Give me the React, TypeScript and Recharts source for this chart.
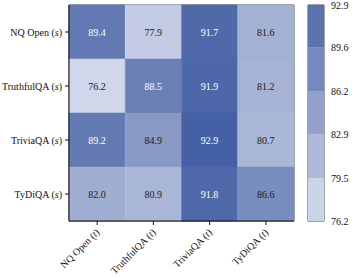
import React from "react";
import { BarChart, Bar, XAxis, YAxis, Cell, LabelList, ReferenceArea } from "recharts";

const rowLabels = ["NQ Open (s)", "TruthfulQA (s)", "TriviaQA (s)", "TyDiQA (s)"];
const colLabels = ["NQ Open (t)", "TruthfulQA (t)", "TriviaQA (t)", "TyDiQA (t)"];

const nqOpenRow = [89.4, 77.9, 91.7, 81.6];
const truthfulQARow = [76.2, 88.5, 91.9, 81.2];
const triviaQARow = [89.2, 84.9, 92.9, 80.7];
const tyDiQARow = [82.0, 80.9, 91.8, 86.6];
const matrix = [nqOpenRow, truthfulQARow, triviaQARow, tyDiQARow];

const colorbarTicks = [76.2, 79.5, 82.9, 86.2, 89.6, 92.9];
const bandColors = ["#ccd4e8", "#afb9dc", "#93a0cd", "#7788c0", "#5b72ad"];

const LOW = [208, 215, 234];
const HIGH = [69, 96, 164];
const vMin = 76.2;
const vMax = 92.9;
const colorFor = (v: number) => {
  const t = Math.max(0, Math.min(1, (v - vMin) / (vMax - vMin)));
  const c = LOW.map((l, k) => Math.round(l + (HIGH[k] - l) * t));
  return `rgb(${c[0]},${c[1]},${c[2]})`;
};
const textColorFor = (v: number) => (v > 87.5 ? "#ffffff" : "#1a1a1a");

const FONT = '"Liberation Serif", "Times New Roman", "DejaVu Serif", serif';
const fontStyle = { fontFamily: FONT };

const heatData = colLabels.map((name) => {
  const d: Record<string, any> = { name };
  rowLabels.forEach((_, i) => {
    d[`r${i}`] = 1;
  });
  return d;
});

const cbData = [
  (() => {
    const d: Record<string, any> = { name: "cb", base: colorbarTicks[0] };
    for (let i = 0; i < colorbarTicks.length - 1; i++) {
      d[`b${i}`] = +(colorbarTicks[i + 1] - colorbarTicks[i]).toFixed(2);
    }
    return d;
  })(),
];

const splitLabel = (s: string) => {
  const m = s.match(/^(.*)\((\w)\)$/);
  return m ? { pre: m[1], it: m[2] } : { pre: s, it: "" };
};

const YTick = (props: any) => {
  const { x, y, payload } = props;
  const idx = Math.round(payload.value - 0.5);
  const lab = splitLabel(rowLabels[idx] ?? "");
  return (
    <text x={x} y={y} textAnchor="end" dominantBaseline="central" style={fontStyle} fontSize={10} fill="#111">
      {lab.pre}(<tspan fontStyle="italic">{lab.it}</tspan>)
    </text>
  );
};

const XTick = (props: any) => {
  const { x, y, payload } = props;
  const lab = splitLabel(payload.value);
  const ax = x + 3;
  const ay = y + 6;
  return (
    <text x={ax} y={ay} textAnchor="end" transform={`rotate(-45, ${ax}, ${ay})`} style={fontStyle} fontSize={10} fill="#111">
      {lab.pre}(<tspan fontStyle="italic">{lab.it}</tspan>)
    </text>
  );
};

const CbTick = (props: any) => {
  const { x, y, payload } = props;
  return (
    <text x={x} y={y} textAnchor="start" dominantBaseline="central" style={fontStyle} fontSize={10} fill="#111">
      {payload.value.toFixed(1)}
    </text>
  );
};

const makeValueLabel = (row: number) => (props: any) => {
  const { x, y, width, height, index } = props;
  const v = matrix[row][index];
  return (
    <text
      x={x + width / 2}
      y={y + height / 2}
      textAnchor="middle"
      dominantBaseline="central"
      style={fontStyle}
      fontSize={10}
      fill={textColorFor(v)}
    >
      {v.toFixed(1)}
    </text>
  );
};

export default function App() {
  return (
    <div style={{ position: "absolute", left: 0, top: 0, width: 357, height: 278, background: "#fff", fontFamily: FONT }}>
      <div style={{ position: "absolute", left: 0, top: 0 }}>
        <BarChart
          width={357}
          height={278}
          data={heatData}
          margin={{ top: 5, right: 63, bottom: 0, left: 0 }}
          barCategoryGap={0}
          barGap={0}
        >
          <XAxis
            dataKey="name"
            type="category"
            height={57}
            interval={0}
            tick={<XTick />}
            tickSize={4}
            tickMargin={2}
            axisLine={{ stroke: "#111" }}
            tickLine={{ stroke: "#111" }}
          />
          <YAxis
            type="number"
            domain={[0, 4]}
            reversed
            ticks={[0.5, 1.5, 2.5, 3.5]}
            width={69}
            tick={<YTick />}
            tickSize={4}
            tickMargin={3}
            axisLine={{ stroke: "#111" }}
            tickLine={{ stroke: "#111" }}
            interval={0}
          />
          {rowLabels.map((_, i) => (
            <Bar key={i} dataKey={`r${i}`} stackId="h" isAnimationActive={false}>
              {matrix[i].map((v, j) => (
                <Cell key={j} fill={colorFor(v)} stroke={colorFor(v)} strokeWidth={0.5} />
              ))}
              <LabelList content={makeValueLabel(i)} />
            </Bar>
          ))}
          <ReferenceArea y1={0} y2={4} fill="none" stroke="#444" strokeWidth={1} ifOverflow="visible" />
        </BarChart>
      </div>
      <div style={{ position: "absolute", left: 300, top: 0 }}>
        <BarChart
          width={57}
          height={230}
          data={cbData}
          margin={{ top: 5, right: 0, bottom: 9, left: 8 }}
          barCategoryGap={0}
          barGap={0}
        >
          <XAxis dataKey="name" hide />
          <YAxis
            orientation="right"
            type="number"
            domain={[colorbarTicks[0], colorbarTicks[colorbarTicks.length - 1]]}
            ticks={colorbarTicks}
            allowDataOverflow
            width={33}
            axisLine={false}
            tickLine={false}
            tickSize={0}
            tickMargin={7}
            interval={0}
            tick={<CbTick />}
          />
          <Bar dataKey="base" stackId="c" fill="transparent" isAnimationActive={false} />
          {bandColors.map((c, i) => (
            <Bar key={i} dataKey={`b${i}`} stackId="c" fill={c} isAnimationActive={false} />
          ))}
          <ReferenceArea
            y1={colorbarTicks[0]}
            y2={colorbarTicks[colorbarTicks.length - 1]}
            fill="none"
            stroke="#444"
            strokeWidth={1}
          />
        </BarChart>
      </div>
    </div>
  );
}
